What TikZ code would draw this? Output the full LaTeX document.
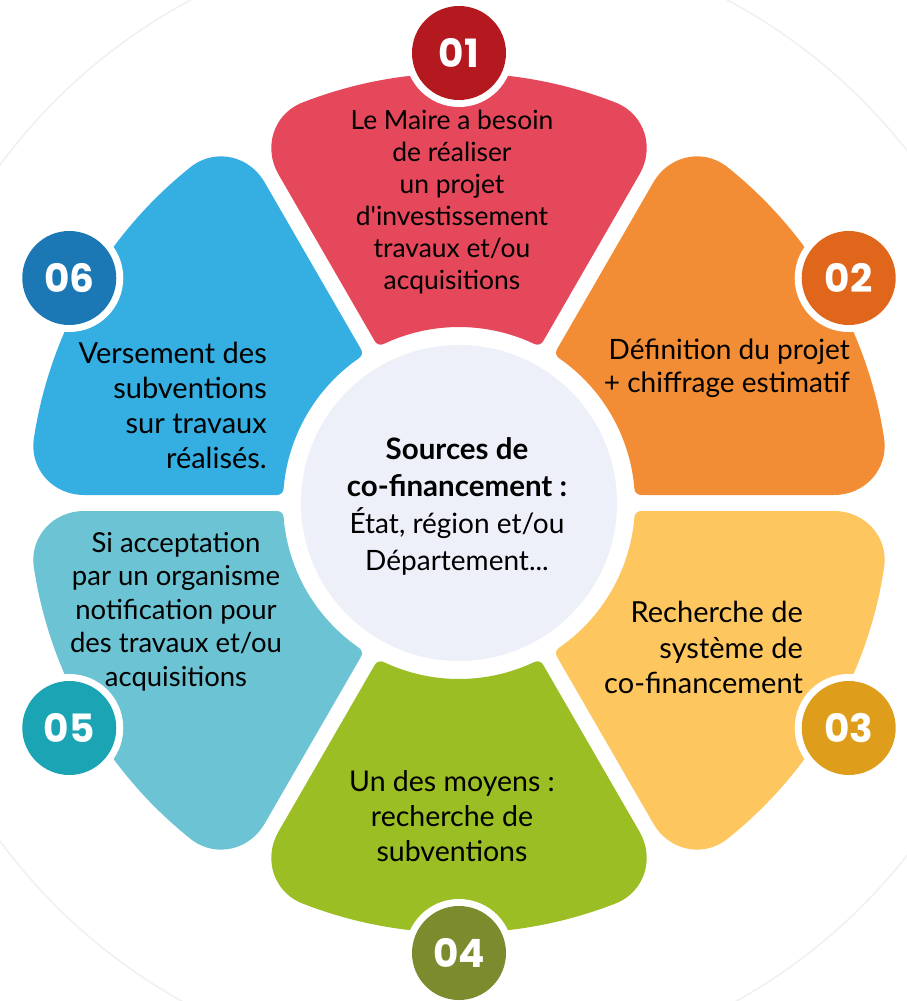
\documentclass[tikz,border=0pt]{standalone}
\usepackage{fontspec}
\setmainfont{Lato}
\newfontfamily\numfont{Poppins}
\usetikzlibrary{calc}
\newcommand\sq{\XeTeXglyph\XeTeXcharglyph"0027\relax}
\definecolor{pA}{HTML}{E5485A}\definecolor{bA}{HTML}{B3191F}
\definecolor{pB}{HTML}{F28D35}\definecolor{bB}{HTML}{E0661C}
\definecolor{pC}{HTML}{FDC65E}\definecolor{bC}{HTML}{DE9E1B}
\definecolor{pD}{HTML}{9BBE24}\definecolor{bD}{HTML}{7B8B2E}
\definecolor{pE}{HTML}{6CC3D3}\definecolor{bE}{HTML}{1BA4B4}
\definecolor{pF}{HTML}{35AEE2}\definecolor{bF}{HTML}{1B78B4}
\definecolor{hub}{HTML}{EDF0F9}
\def\Rout{430}\def\Rin{176}\def\pgap{8}\def\cO{55}\def\cI{6}\def\kk{0.55}
\newcommand\drawpetal[2]{%
 \pgfmathsetmacro\aO{asin(\pgap/\Rout)}%
 \pgfmathsetmacro\dO{\cO/\Rout*180/pi}%
 \pgfmathsetmacro\aI{asin(\pgap/\Rin)}%
 \pgfmathsetmacro\dI{\cI/\Rin*180/pi}%
 \pgfmathsetmacro\aR{#1-30}%
 \pgfmathsetmacro\aL{#1+30}%
 \pgfmathsetmacro\nR{#1+60}%
 \pgfmathsetmacro\nL{#1-60}%
 \pgfmathsetmacro\sO{\Rout-\cO}%
 \pgfmathsetmacro\sOk{\Rout-\cO+\kk*\cO}%
 \pgfmathsetmacro\sI{\Rin+\cI}%
 \pgfmathsetmacro\sIk{\Rin+\cI-\kk*\cI}%
 \pgfmathsetmacro\qR{\aR+\aO+\dO}%
 \pgfmathsetmacro\qRk{\aR+\aO+\dO-\kk*\dO}%
 \pgfmathsetmacro\qL{\aL-\aO-\dO}%
 \pgfmathsetmacro\qLk{\aL-\aO-\dO+\kk*\dO}%
 \pgfmathsetmacro\iL{\aL-\aI-\dI}%
 \pgfmathsetmacro\iLk{\aL-\aI-\dI+\kk*\dI}%
 \pgfmathsetmacro\iR{\aR+\aI+\dI}%
 \pgfmathsetmacro\iRk{\aR+\aI+\dI-\kk*\dI}%
 \fill[#2] ($(\aR:\sI)+(\nR:\pgap)$) -- ($(\aR:\sO)+(\nR:\pgap)$)
   .. controls ($(\aR:\sOk)+(\nR:\pgap)$) and (\qRk:\Rout) .. (\qR:\Rout)
   arc[start angle=\qR, end angle=\qL, radius=\Rout]
   .. controls (\qLk:\Rout) and ($(\aL:\sOk)+(\nL:\pgap)$) .. ($(\aL:\sO)+(\nL:\pgap)$)
   -- ($(\aL:\sI)+(\nL:\pgap)$)
   .. controls ($(\aL:\sIk)+(\nL:\pgap)$) and (\iLk:\Rin) .. (\iL:\Rin)
   arc[start angle=\iL, end angle=\iR, radius=\Rin]
   .. controls (\iRk:\Rin) and ($(\aR:\sIk)+(\nR:\pgap)$) .. ($(\aR:\sI)+(\nR:\pgap)$) -- cycle;
}
\tikzset{
 badge/.style={circle, inner sep=0pt, minimum size=94pt, text=white,
   font=\numfont\bfseries\fontsize{39}{39}\selectfont},
 ring/.style={circle, inner sep=0pt, minimum size=108pt, fill=white},
 label/.style={inner sep=0pt, text=black, font=\fontsize{26}{33}\selectfont},
}
\begin{document}
\begin{tikzpicture}[x=1pt,y=1pt]
\useasboundingbox (-459,-498) rectangle (447,503);
\fill[white] (-459,-498) rectangle (447,503);
\draw[black!6, line width=1.5pt] (0,0) circle (570);
\drawpetal{90}{pA}
\drawpetal{30}{pB}
\drawpetal{-30}{pC}
\drawpetal{-90}{pD}
\drawpetal{-150}{pE}
\drawpetal{150}{pF}
\fill[hub] (0,0) circle (158);
\foreach \m/\c/\t/\n in {90/bA/01/b1, 30/bB/02/b2, -30/bC/03/b3, -90/bD/04/b4, -150/bE/05/b5, 150/bF/06/b6}{
  \node[ring] (r\n) at (\m:450) {};
  \node[badge, fill=\c] (\n) at (\m:450) {\t};
}
\node[label, align=center, font=\fontsize{26.4}{32}\selectfont] (t1) at (-7,301)
 {Le Maire a besoin\\de réaliser\\un projet\\d\sq investissement\\travaux et/ou\\acquisitions};
\node[label, align=right, anchor=east, font=\fontsize{28}{33}\selectfont] (t2) at (391,134.5)
 {Définition du projet\\+ chiffrage estimatif};
\node[label, align=right, anchor=east, font=\fontsize{29}{35.5}\selectfont] (t3) at (344,-144.7)
 {Recherche de\\système de\\co-financement};
\node[label, align=center, font=\fontsize{28.5}{35}\selectfont] (t4) at (-7,-312.7)
 {Un des moyens :\\recherche de\\subventions};
\node[label, align=center, font=\fontsize{27.5}{33.5}\selectfont] (t5) at (-283,-108.5)
 {Si acceptation\\par un organisme\\notification pour\\des travaux et/ou\\acquisitions};
\node[label, align=right, anchor=east, font=\fontsize{29}{35}\selectfont] (t6) at (-192,97.5)
 {Versement des\\subventions\\sur travaux\\réalisés.};
\node[label, align=center, font=\fontsize{28}{37}\selectfont] (hubtext) at (-2,-3)
 {{\fontsize{29.5}{37}\selectfont\bfseries Sources de}\\{\fontsize{29.5}{37}\selectfont\bfseries co-financement :}\\État, région et/ou\\Département...};
\end{tikzpicture}
\end{document}
